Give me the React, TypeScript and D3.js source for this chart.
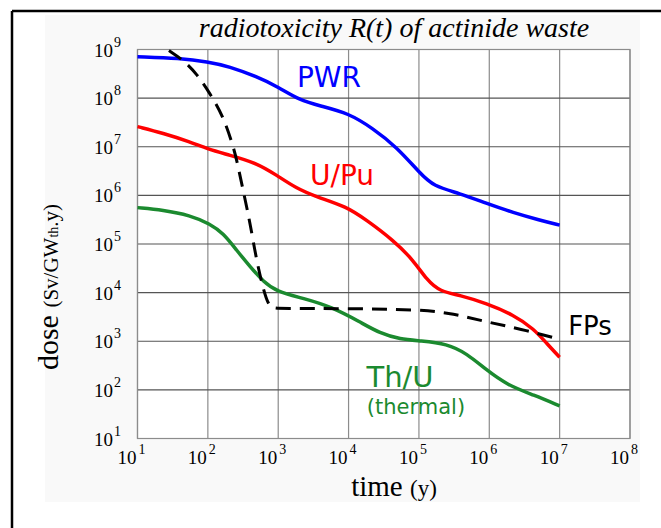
import * as d3 from 'd3';

// radiotoxicity curves, time in years, dose in Sv/GWth.y
const pwrTime = [10, 40, 100, 200, 500, 1000, 2000, 4000, 1e4, 2.2e4, 4.8e4, 1.05e5, 1.6e5, 3.8e5, 9e5, 2.2e6, 5.2e6, 1e7];
const pwrDose = [7.1e8, 6.6e8, 5.6e8, 4.5e8, 2.75e8, 1.7e8, 9.1e7, 6.9e7, 4.9e7, 2.4e7, 1e7, 2.8e6, 1.55e6, 1.1e6, 6.9e5, 4.4e5, 3.1e5, 2.45e5];

const uPuTime = [10, 23, 56, 100, 200, 500, 950, 1800, 3500, 9300, 1.8e4, 4.3e4, 8.3e4, 1.3e5, 2e5, 3.8e5, 9.1e5, 2.2e6, 4.3e6, 6.6e6, 1e7];
const uPuDose = [2.6e7, 1.9e7, 1.26e7, 8.9e6, 6.8e6, 4.6e6, 2.6e6, 1.4e6, 9.3e5, 5.9e5, 3.1e5, 1.2e5, 4.7e4, 1.8e4, 1.05e4, 8.9e3, 6.0e3, 3.5e3, 1.8e3, 890, 470];

const thUTime = [10, 23, 56, 107, 166, 257, 400, 620, 950, 2300, 5700, 1.45e4, 2.8e4, 5.4e4, 1.05e5, 2.5e5, 4.8e5, 9.1e5, 1.8e6, 4.3e6, 1e7];
const thUDose = [5.6e5, 5.0e5, 3.9e5, 2.6e5, 1.66e5, 7.4e4, 3.4e4, 1.66e4, 1.05e4, 7.6e3, 5.1e3, 2.5e3, 1.45e3, 1.1e3, 1.02e3, 890, 560, 257, 126, 78, 47];

const fpTime = [28, 45, 69, 107, 166, 230, 257, 340, 400, 490, 620, 720, 830, 1070, 9300, 1.05e5, 3.1e5, 9.1e5, 2.75e6, 1e7];
const fpDose = [9.5e8, 6.0e8, 3.2e8, 1.26e8, 4.2e7, 1e7, 5.4e6, 7.9e5, 2.6e5, 4.7e4, 1.1e4, 5.8e3, 4.8e3, 4.7e3, 4.7e3, 4.5e3, 3.7e3, 2.5e3, 1.8e3, 1.1e3];

const xTickExps = [1, 2, 3, 4, 5, 6, 7, 8];
const yTickExps = [1, 2, 3, 4, 5, 6, 7, 8, 9];

const serif = '"Liberation Serif", "Times New Roman", serif';
const hand = '"DejaVu Sans", sans-serif';

const App = () => {
    const margin = { top: 49.5, right: 31, bottom: 89.5, left: 137.5 };
    const width = 661;
    const height = 528;

    const x = d3.scaleLog().domain([10, 1e8]).range([margin.left, width - margin.right]);
    const y = d3.scaleLog().domain([10, 1e9]).range([height - margin.bottom, margin.top]);

    const line = d3.line<[number, number]>()
        .curve(d3.curveBasis)
        .x(d => x(d[0]))
        .y(d => y(d[1]));

    const zip = (t: number[], v: number[]) => t.map((d, i) => [d, v[i]] as [number, number]);

    const series = [
        { name: 'PWR', pts: zip(pwrTime, pwrDose), color: '#0000ff', dash: null },
        { name: 'U/Pu', pts: zip(uPuTime, uPuDose), color: '#ff0000', dash: null },
        { name: 'Th/U', pts: zip(thUTime, thUDose), color: '#1b8a2f', dash: null },
        { name: 'FPs', pts: zip(fpTime, fpDose), color: '#000000', dash: '15,9' },
    ];

    const [x0, x1] = x.range();
    const [y0, y1] = y.range();

    return (
        <svg width={width} height={height} style={{ position: 'absolute', left: 0, top: 0, background: '#fff' }}>
            <rect x={45} y={15} width={595} height={487} fill="#f9f9f9" />
            {/* frame */}
            <line x1={12} x2={12} y1={11} y2={height} stroke="#000" strokeWidth={2.5} />
            <line x1={12} x2={width} y1={11} y2={11} stroke="#000" strokeWidth={2.5} />

            <rect x={x0} y={y1} width={x1 - x0} height={y0 - y1} fill="#fff" />

            {/* grid */}
            {xTickExps.map(e => (
                <line key={'gx' + e} x1={x(10 ** e)} x2={x(10 ** e)} y1={y1} y2={y0} stroke="#8c8c8c" strokeWidth={1.2} />
            ))}
            {yTickExps.slice(1, -1).map(e => (
                <line key={'gy' + e} x1={x0} x2={x1} y1={y(10 ** e)} y2={y(10 ** e)} stroke="#555" strokeWidth={1.2} />
            ))}
            <rect x={x0} y={y1} width={x1 - x0} height={y0 - y1} fill="none" stroke="#8c8c8c" strokeWidth={1.2} />

            {/* curves */}
            {series.map(s => (
                <path key={s.name} d={line(s.pts) ?? ''} fill="none" stroke={s.color}
                    strokeWidth={s.dash ? 3 : 3.5} strokeDasharray={s.dash ?? undefined} strokeLinecap="butt" />
            ))}

            {/* y tick labels */}
            {yTickExps.map(e => (
                <g key={'ly' + e} fontFamily={serif} fill="#000">
                    <text x={113} y={y(10 ** e) + 7} fontSize={19} textAnchor="end">10</text>
                    <text x={114} y={y(10 ** e) - 3} fontSize={14}>{e}</text>
                </g>
            ))}
            {/* x tick labels */}
            {xTickExps.map(e => (
                <g key={'lx' + e} fontFamily={serif} fill="#000">
                    <text x={x(10 ** e) - 1} y={464} fontSize={19} textAnchor="end">10</text>
                    <text x={x(10 ** e) + 1} y={454} fontSize={14}>{e}</text>
                </g>
            ))}

            {/* titles */}
            <text x={394} y={37} fontFamily={serif} fontStyle="italic" fontSize={28} textAnchor="middle">
                radiotoxicity R(t) of actinide waste
            </text>
            <text x={394} y={496} fontFamily={serif} fontSize={29} textAnchor="middle">
                time <tspan fontSize={23}>(y)</tspan>
            </text>
            <text transform="translate(58,287) rotate(-90)" fontFamily={serif} fontSize={30} textAnchor="middle">
                dose <tspan fontSize={21}>(Sv/GW</tspan><tspan fontSize={14}>th</tspan><tspan fontSize={21}>.y)</tspan>
            </text>

            {/* series labels */}
            <text x={329} y={87} fontFamily={hand} fontSize={28} fill="#0000ff" textAnchor="middle">PWR</text>
            <text x={342} y={185} fontFamily={hand} fontSize={28} fill="#ff0000" textAnchor="middle">U/Pu</text>
            <text x={590} y={335} fontFamily={hand} fontSize={26} fill="#000" textAnchor="middle">FPs</text>
            <text x={400} y={387} fontFamily={hand} fontSize={29} fill="#1b8a2f" textAnchor="middle">Th/U</text>
            <text x={416} y={414} fontFamily={hand} fontSize={21} fill="#1b8a2f" textAnchor="middle">(thermal)</text>
        </svg>
    );
};

export default App;
